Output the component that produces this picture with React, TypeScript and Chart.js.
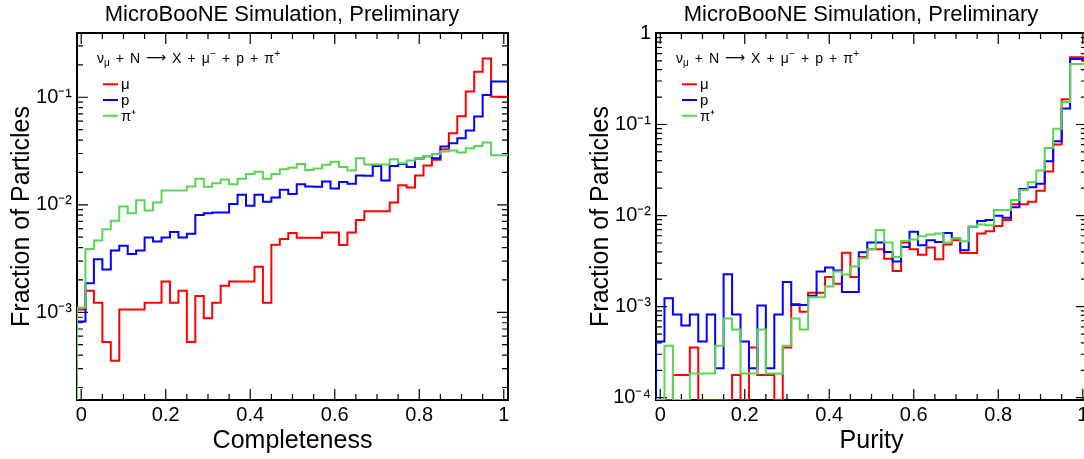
import React, { useEffect, useRef } from "react";
import { Chart, registerables } from "chart.js";

Chart.register(...registerables);

const FONT = '"Liberation Sans", Arial, Helvetica, sans-serif';
Chart.defaults.font.family = FONT;

// ---------- text ----------
const TITLE = "MicroBooNE Simulation, Preliminary";
const Y_TITLE = "Fraction of Particles";
const X_TITLE_LEFT = "Completeness";
const X_TITLE_RIGHT = "Purity";
const SERIES_LABELS = ["μ", "p", "π⁺"];
const SERIES_COLORS = ["#ff0000", "#0000ff", "#59d454"];
const REACTION = [
  { t: "ν", sub: "μ" }, { t: "+" }, { t: "N" }, { t: "⟶", arrow: true }, { t: "X" }, { t: "+" },
  { t: "μ", sup: "−" }, { t: "+" }, { t: "p" }, { t: "+" }, { t: "π", sup: "+" },
];

// ---------- axes ----------
const BIN_LOW = -0.01;
const BIN_WIDTH = 0.02;
const N_BINS = 51;
const X_TICK_VALUES = [0, 0.2, 0.4, 0.6, 0.8, 1];
const LEFT_Y_TICKS = [1e-3, 1e-2, 1e-1];
const RIGHT_Y_TICKS = [1e-4, 1e-3, 1e-2, 1e-1, 1];
const LEFT_Y_RANGE = [1.53e-4, 0.396];
const RIGHT_Y_RANGE = [9.44e-5, 1.01];

// ---------- data: fraction of particles per bin (bins centred at 0, 0.02, ... 1.0) ----------
const completenessMu = [0, 1.06e-3, 1.59e-3, 1.23e-3, 5.3e-4, 3.55e-4, 1.06e-3, 1.06e-3, 1.06e-3, 1.23e-3, 1.23e-3, 1.94e-3, 1.23e-3, 1.59e-3, 5.3e-4, 1.42e-3, 8.8e-4, 1.23e-3, 1.77e-3, 1.94e-3, 1.94e-3, 1.94e-3, 2.65e-3, 1.23e-3, 4.24e-3, 4.8e-3, 5.46e-3, 4.93e-3, 4.93e-3, 4.93e-3, 5.53e-3, 5.53e-3, 4.22e-3, 5.53e-3, 7.21e-3, 8.73e-3, 8.73e-3, 8.73e-3, 1.05e-2, 1.52e-2, 1.45e-2, 1.87e-2, 2.32e-2, 2.62e-2, 3.29e-2, 4.63e-2, 6.67e-2, 0.113, 0.173, 0.229, 0.101];
const completenessP = [0, 8.2e-4, 1.86e-3, 3.12e-3, 2.5e-3, 3.76e-3, 4.15e-3, 3.49e-3, 3.76e-3, 4.97e-3, 4.55e-3, 4.97e-3, 5.6e-3, 4.97e-3, 5.37e-3, 8.02e-3, 8.36e-3, 8.49e-3, 8.49e-3, 1.02e-2, 1.24e-2, 9.79e-3, 1.24e-2, 1.07e-2, 1.17e-2, 1.38e-2, 1.26e-2, 1.55e-2, 1.48e-2, 1.47e-2, 1.65e-2, 1.42e-2, 1.63e-2, 1.57e-2, 1.87e-2, 1.86e-2, 2.29e-2, 1.68e-2, 2.3e-2, 2.39e-2, 2.25e-2, 2.69e-2, 2.83e-2, 2.71e-2, 3.48e-2, 3.74e-2, 4.16e-2, 4.9e-2, 6.61e-2, 0.105, 0.14];
const completenessPi = [0, 1.11e-3, 3.89e-3, 4.66e-3, 5.93e-3, 7.1e-3, 9.64e-3, 8.36e-3, 1.1e-2, 8.85e-3, 1.05e-2, 1.36e-2, 1.36e-2, 1.36e-2, 1.48e-2, 1.75e-2, 1.47e-2, 1.59e-2, 1.72e-2, 1.55e-2, 1.75e-2, 1.93e-2, 2.03e-2, 1.75e-2, 1.93e-2, 2.14e-2, 2.21e-2, 2.39e-2, 2.11e-2, 2.17e-2, 2.36e-2, 2.52e-2, 2.25e-2, 2.08e-2, 2.71e-2, 2.37e-2, 2.37e-2, 2.37e-2, 2.65e-2, 2.44e-2, 2.58e-2, 2.71e-2, 2.85e-2, 2.96e-2, 3.13e-2, 3.2e-2, 3.06e-2, 3.36e-2, 3.53e-2, 3.79e-2, 2.89e-2];

const purityMu = [0, 0, 0, 1.78e-4, 1.78e-4, 3.56e-4, 0, 0, 0, 0, 1.78e-4, 0, 3.56e-4, 1.78e-4, 1.78e-4, 0, 3.56e-4, 1.07e-3, 8.8e-4, 1.42e-3, 1.42e-3, 2.11e-3, 1.78e-3, 3.91e-3, 2.11e-3, 3.51e-3, 4.27e-3, 4.27e-3, 3.36e-3, 2.46e-3, 5.06e-3, 4.27e-3, 3.72e-3, 4.45e-3, 3.31e-3, 4.8e-3, 5.36e-3, 3.88e-3, 3.88e-3, 6.35e-3, 6.74e-3, 7.66e-3, 8.92e-3, 1.33e-2, 1.33e-2, 1.42e-2, 1.87e-2, 3.05e-2, 6.01e-2, 0.189, 0.546];
const purityP = [0, 4.15e-4, 1.24e-3, 8.2e-4, 6.2e-4, 8.2e-4, 4.15e-4, 8.2e-4, 2.1e-4, 2.27e-3, 8.2e-4, 4.15e-4, 2.1e-4, 1.03e-3, 2.1e-4, 8.2e-4, 1.87e-3, 1.04e-3, 1.04e-3, 1.32e-3, 2.43e-3, 2.69e-3, 2.49e-3, 1.45e-3, 1.45e-3, 3.95e-3, 5.06e-3, 5.06e-3, 3.98e-3, 3.14e-3, 4.53e-3, 6.63e-3, 4.72e-3, 5.36e-3, 5.14e-3, 6.45e-3, 5.6e-3, 4.16e-3, 7.54e-3, 8.7e-3, 8.92e-3, 9.95e-3, 9.46e-3, 1.23e-2, 1.96e-2, 2.05e-2, 2.23e-2, 3.94e-2, 6.55e-2, 0.15, 0.522];
const purityPi = [0, 0, 3.72e-4, 0, 0, 1.85e-4, 1.85e-4, 1.85e-4, 3.72e-4, 7.43e-4, 5.62e-4, 1.85e-4, 1.85e-4, 5.62e-4, 1.85e-4, 1.85e-4, 3.72e-4, 7.43e-4, 5.62e-4, 1.27e-3, 1.27e-3, 1.66e-3, 2.43e-3, 2.25e-3, 2.76e-3, 3.4e-3, 4.27e-3, 6.92e-3, 5.06e-3, 3.51e-3, 5.27e-3, 5.45e-3, 5.93e-3, 6.19e-3, 6.35e-3, 5.06e-3, 5.6e-3, 5.23e-3, 7.54e-3, 7.99e-3, 7.85e-3, 1.15e-2, 1.15e-2, 1.48e-2, 1.91e-2, 2.32e-2, 3.13e-2, 5.52e-2, 8.95e-2, 0.177, 0.46];

// ---------- helpers ----------
const SUP: Record<string, string> = { "-": "⁻", "0": "⁰", "1": "¹", "2": "²", "3": "³", "4": "⁴", "5": "⁵", "6": "⁶", "7": "⁷", "8": "⁸", "9": "⁹" };
function logLabel(v: number): string {
  const e = Math.round(Math.log10(v));
  if (e === 0) return "1";
  return "10" + String(e).split("").map((c) => SUP[c]).join("");
}

const rootStyle = {
  id: "rootStyle",
  beforeDatasetsDraw(chart: any) {
    const { ctx, chartArea: a, scales } = chart;
    const xs = scales.x;
    const ys = scales.y;
    ctx.save();
    ctx.strokeStyle = "#000";
    ctx.lineWidth = 1.2;
    ctx.beginPath();
    for (let k = 0; k <= 20; k++) {
      const px = xs.getPixelForValue(k * 0.05);
      const len = k % 4 === 0 ? 11 : 6;
      ctx.moveTo(px, a.bottom);
      ctx.lineTo(px, a.bottom - len);
      ctx.moveTo(px, a.top);
      ctx.lineTo(px, a.top + len);
    }
    const dMin = Math.floor(Math.log10(ys.min));
    const dMax = Math.ceil(Math.log10(ys.max));
    for (let d = dMin; d <= dMax; d++) {
      for (let m = 1; m <= 9; m++) {
        const v = m * Math.pow(10, d);
        if (v < ys.min || v > ys.max * 1.0001) continue;
        const py = ys.getPixelForValue(v);
        const len = m === 1 ? 11 : 6;
        ctx.moveTo(a.left, py);
        ctx.lineTo(a.left + len, py);
        ctx.moveTo(a.right, py);
        ctx.lineTo(a.right - len, py);
      }
    }
    ctx.stroke();
    ctx.lineWidth = 2;
    ctx.strokeRect(a.left, a.top, a.right - a.left, a.bottom - a.top);
    ctx.restore();
  },
  afterDatasetsDraw(chart: any) {
    const { ctx, chartArea: a } = chart;
    ctx.save();
    ctx.fillStyle = "#000";
    ctx.textBaseline = "alphabetic";
    // reaction text
    let x = a.left + 20;
    const y = a.top + 29.5;
    const gap = 6;
    for (const tok of REACTION as any[]) {
      ctx.font = tok.arrow ? `14px "DejaVu Sans", ${FONT}` : `14px ${FONT}`;
      ctx.fillText(tok.t, x, tok.arrow ? y - 0.5 : y);
      let w = ctx.measureText(tok.t).width;
      if (tok.sub) {
        ctx.font = `10px ${FONT}`;
        ctx.fillText(tok.sub, x + w, y + 3);
        w += ctx.measureText(tok.sub).width;
      }
      if (tok.sup) {
        ctx.font = `10px ${FONT}`;
        ctx.fillText(tok.sup, x + w + 0.5, y - 6);
        w += ctx.measureText(tok.sup).width + 0.5;
      }
      x += w + gap;
    }
    // legend
    ctx.font = `15px ${FONT}`;
    ctx.textBaseline = "middle";
    chart.data.datasets.forEach((ds: any, i: number) => {
      const ly = a.top + 51.3 + i * 15.7;
      ctx.strokeStyle = ds.borderColor;
      ctx.lineWidth = 2;
      ctx.beginPath();
      ctx.moveTo(a.left + 26, ly);
      ctx.lineTo(a.left + 41, ly);
      ctx.stroke();
      ctx.fillStyle = "#000";
      ctx.fillText(ds.label, a.left + 44, ly + 1);
    });
    ctx.restore();
  },
};

function makeConfig(series: number[][], yRange: number[], yTicks: number[], xTitle: string): any {
  const [yMin, yMax] = yRange;
  const edges = Array.from({ length: N_BINS + 1 }, (_, i) => BIN_LOW + i * BIN_WIDTH);
  const datasets = series.map((vals, s) => ({
    label: SERIES_LABELS[s],
    data: edges.map((ex, i) => ({ x: ex, y: Math.max(vals[Math.min(i, N_BINS - 1)], yMin) })),
    borderColor: SERIES_COLORS[s],
    backgroundColor: SERIES_COLORS[s],
    borderWidth: 2,
    pointRadius: 0,
    pointHoverRadius: 0,
    stepped: "after",
    fill: false,
    order: 2 - s,
  }));
  return {
    type: "line",
    data: { datasets },
    plugins: [rootStyle],
    options: {
      responsive: false,
      animation: false,
      devicePixelRatio: 1,
      events: [],
      layout: { padding: { left: 0, right: 0, top: 0, bottom: 0 } },
      plugins: {
        legend: { display: false },
        tooltip: { enabled: false },
        title: {
          display: true,
          text: TITLE,
          color: "#000",
          font: { size: 22, weight: "normal", family: FONT },
          padding: { top: 2, bottom: 4.6 },
        },
      },
      scales: {
        x: {
          type: "linear",
          min: BIN_LOW,
          max: BIN_LOW + N_BINS * BIN_WIDTH,
          grid: { display: false, drawTicks: false },
          border: { display: false },
          afterBuildTicks: (s: any) => {
            s.ticks = X_TICK_VALUES.map((v) => ({ value: v }));
          },
          afterFit: (s: any) => {
            s.height = 59;
          },
          ticks: {
            autoSkip: false,
            maxRotation: 0,
            color: "#000",
            padding: 3,
            font: { size: 20, family: FONT },
            callback: (v: any) => String(Number(Number(v).toFixed(2))),
          },
          title: {
            display: true,
            text: xTitle,
            color: "#000",
            font: { size: 25, family: FONT },
            padding: { top: 0, bottom: 3 },
          },
        },
        y: {
          type: "logarithmic",
          position: "left",
          min: yMin,
          max: yMax,
          grid: { display: false, drawTicks: false },
          border: { display: false },
          afterBuildTicks: (s: any) => {
            s.ticks = yTicks.map((v) => ({ value: v }));
          },
          afterFit: (s: any) => {
            s.width = 77;
          },
          ticks: {
            autoSkip: false,
            color: "#000",
            padding: 5,
            font: { size: 20, family: FONT },
            callback: (v: any) => logLabel(Number(v)),
          },
          title: {
            display: true,
            text: Y_TITLE,
            color: "#000",
            font: { size: 25, family: FONT },
            padding: { top: 7, bottom: 0 },
          },
        },
        // empty spacer on the right so the page title centres like the reference
        spacer: {
          type: "linear",
          position: "right",
          display: true,
          grid: { display: false, drawTicks: false },
          border: { display: false },
          ticks: { display: false },
          afterFit: (s: any) => {
            s.width = 56;
          },
        },
      },
    },
  };
}

function ChartPanel({ build, left }: { build: () => any; left: number }) {
  const ref = useRef<HTMLCanvasElement | null>(null);
  useEffect(() => {
    if (!ref.current) return;
    const chart = new Chart(ref.current, build());
    return () => chart.destroy();
  }, [build]);
  return (
    <canvas
      ref={ref}
      width={564}
      height={459}
      style={{ position: "absolute", left, top: 0, width: 564, height: 459, display: "block" }}
    />
  );
}

const buildLeft = () =>
  makeConfig([completenessMu, completenessP, completenessPi], LEFT_Y_RANGE, LEFT_Y_TICKS, X_TITLE_LEFT);
const buildRight = () =>
  makeConfig([purityMu, purityP, purityPi], RIGHT_Y_RANGE, RIGHT_Y_TICKS, X_TITLE_RIGHT);

export default function App() {
  return (
    <div
      style={{
        position: "absolute",
        left: 0,
        top: 0,
        width: 1084,
        height: 459,
        overflow: "hidden",
        background: "#fff",
      }}
    >
      <ChartPanel build={buildLeft} left={0} />
      <ChartPanel build={buildRight} left={579} />
    </div>
  );
}
